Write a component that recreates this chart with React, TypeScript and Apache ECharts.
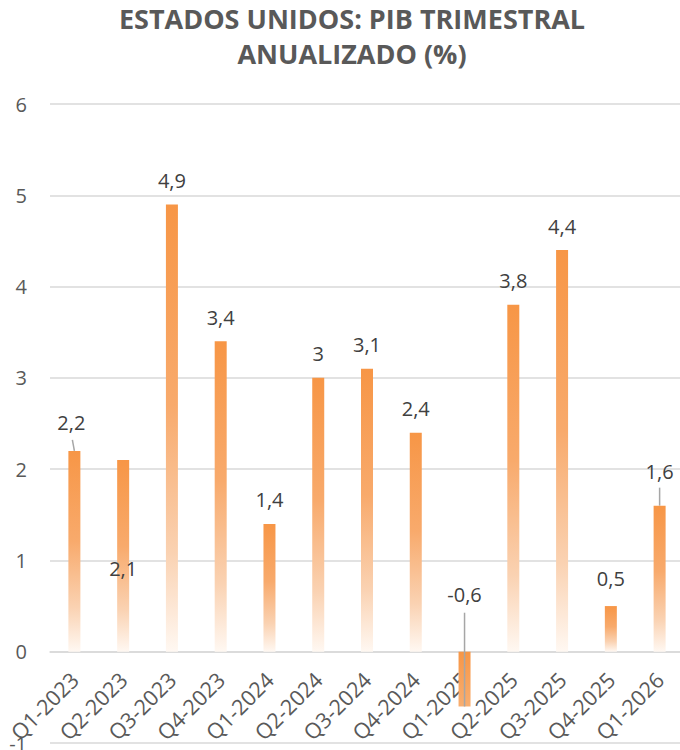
import React, { useEffect, useRef } from "react";
import * as echarts from "echarts";

const categories = [
  "Q1-2023", "Q2-2023", "Q3-2023", "Q4-2023",
  "Q1-2024", "Q2-2024", "Q3-2024", "Q4-2024",
  "Q1-2025", "Q2-2025", "Q3-2025", "Q4-2025", "Q1-2026",
];
const gdpValues = [2.2, 2.1, 4.9, 3.4, 1.4, 3, 3.1, 2.4, -0.6, 3.8, 4.4, 0.5, 1.6];
const yTicks = { min: -1, max: 6, interval: 1 };

// label placement tweaks (pixels) by category index
const labelOffsets: Record<number, [number, number]> = {
  0: [-3, -4],
  1: [0, 132],
  8: [0, -33],
  11: [0, -4],
  12: [0, -10],
};

const FONT = "'Open Sans', 'Noto Sans', sans-serif";
const ORANGE = "#F79646";

const GRID_TOP = 104;
const GRID_BOTTOM = 7;
const GRID_H = 750 - GRID_TOP - GRID_BOTTOM;

export default function App() {
  const ref = useRef<HTMLDivElement>(null);

  useEffect(() => {
    if (!ref.current) return;
    const chart = echarts.init(ref.current, null, { renderer: "svg" });

    const posGrad = new echarts.graphic.LinearGradient(0, 0, 0, 1, [
      { offset: 0, color: ORANGE },
      { offset: 0.45, color: "#F8AA6C" },
      { offset: 0.78, color: "#FAD2B2" },
      { offset: 1, color: "#FFF8F2" },
    ]);
    const negGrad = new echarts.graphic.LinearGradient(0, 0, 0, 1, [
      { offset: 0, color: ORANGE },
      { offset: 1, color: "#F8AE70" },
    ]);

    const data = gdpValues.map((v, i) => {
      const off = labelOffsets[i] || [0, 0];
      return {
        value: v,
        itemStyle: { color: v < 0 ? negGrad : posGrad },
        label: { offset: off },
      };
    });

    // distance (px) from grid bottom to the zero line, derived from the axis range
    const zeroOffset = (GRID_H * (0 - yTicks.min)) / (yTicks.max - yTicks.min);

    chart.setOption({
      animation: false,
      title: {
        text: "ESTADOS UNIDOS: PIB TRIMESTRAL\nANUALIZADO (%)",
        left: 347,
        textAlign: "center",
        top: -4,
        textStyle: {
          fontFamily: FONT,
          fontSize: 27,
          fontWeight: "bold",
          color: "#595959",
          lineHeight: 35,
        },
      },
      grid: { left: 50, top: GRID_TOP, width: 634, bottom: GRID_BOTTOM, containLabel: false, outerBoundsMode: "none" },
      xAxis: {
        type: "category",
        data: categories,
        position: "bottom",
        offset: -zeroOffset,
        axisLine: { onZero: false, lineStyle: { color: "#d9d9d9", width: 1.5 } },
        axisTick: { show: false },
        axisLabel: {
          rotate: 45,
          interval: 0,
          margin: 24,
          fontFamily: FONT,
          fontSize: 21.5,
          color: "#595959",
        },
      },
      yAxis: {
        type: "value",
        min: yTicks.min,
        max: yTicks.max,
        interval: yTicks.interval,
        axisLine: { show: false },
        axisTick: { show: false },
        splitLine: { lineStyle: { color: "#d9d9d9", width: 1.5 } },
        axisLabel: {
          margin: 23,
          fontFamily: FONT,
          fontSize: 20,
          color: "#595959",
        },
      },
      series: [
        {
          type: "bar",
          data,
          barWidth: 12,
          label: {
            show: true,
            position: "top",
            distance: 14,
            fontFamily: FONT,
            fontSize: 20,
            color: "#404040",
            formatter: (p: any) => String(p.value).replace(".", ","),
          },
        },
      ],
    });

    // leader lines computed from the axes
    const px = (i: number, v: number) =>
      chart.convertToPixel({ seriesIndex: 0 }, [i, v]) as number[];
    const lines: any[] = [];
    const lineStyle = { stroke: "#a6a6a6", lineWidth: 1.5 };
    {
      const top = px(0, gdpValues[0]);
      lines.push({ type: "line", shape: { x1: top[0] - 2, y1: top[1] - 11, x2: top[0], y2: top[1] }, style: lineStyle, silent: true });
    }
    {
      const bot = px(8, gdpValues[8]);
      const zero = px(8, 0);
      lines.push({ type: "line", shape: { x1: bot[0], y1: zero[1] - 39, x2: bot[0], y2: bot[1] }, style: lineStyle, silent: true, z: 100 });
    }
    {
      const top = px(12, gdpValues[12]);
      lines.push({ type: "line", shape: { x1: top[0], y1: top[1] - 18, x2: top[0], y2: top[1] }, style: lineStyle, silent: true });
    }
    chart.setOption({ graphic: lines });

    return () => chart.dispose();
  }, []);

  return (
    <div
      ref={ref}
      style={{ position: "absolute", left: 0, top: 0, width: 680, height: 750, background: "#fff" }}
    />
  );
}
